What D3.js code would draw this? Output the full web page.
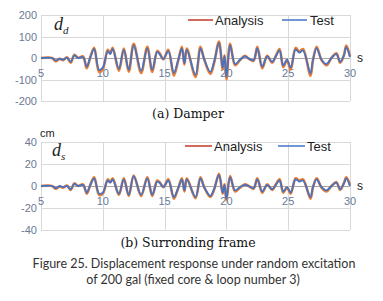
<!DOCTYPE html>
<html>
<head>
<meta charset="utf-8">
<script src="https://cdn.jsdelivr.net/npm/d3@7"></script>
<style>
body { margin: 0; background: #fff; }
svg { display: block; }
</style>
</head>
<body>
<svg id="chart" width="383" height="301"></svg>
<script>
// time stamps (s) shared by both panels
let times = [5, 5.9, 6.2, 6.5, 6.8, 7.1, 7.4, 7.7, 8.0, 8.4, 8.7, 9.0, 9.3, 9.7, 10.0, 10.4, 10.6, 10.8, 11.3, 11.7,
	12.1, 12.5, 13.1, 13.6, 14.0, 14.4, 14.6, 14.9, 15.3, 15.75, 16.1, 16.4, 16.6, 16.8, 17.5, 17.9, 18.2, 18.7, 19.0, 19.4,
	19.7, 19.85, 20.0, 20.3, 20.7, 21.1, 21.5, 21.8, 22.2, 22.5, 22.9, 23.3, 23.7, 24.0, 24.3, 24.6, 24.9, 25.2, 25.6, 25.9,
	26.2, 26.8, 27.0, 27.3, 27.7, 28.1, 28.5, 28.9, 29.2, 29.5, 29.7, 30];

// (a) damper displacement
let damperTest = [0, 0, -12, -3, -8, 2, -18, 12, 0, 5, -40, 5, 42, -55, -45, 32, 18, 42, -50, 38,
	-55, 60, -60, 45, -55, 28, 18, -5, 32, -70, -10, 45, -25, 38, -78, 45, -5, -65, -20, 70,
	-45, 10, -90, 60, -28, -8, 8, -2, -10, 45, -40, 8, -18, 8, 35, -35, -8, -45, 40, 25,
	35, -72, -10, 45, -8, -28, 0, 18, -18, 10, 50, 5];
let damperAnalysis = [0, 0, -15, -4, -10, 3, -22, 15, 1, 7, -48, 6, 48, -65, -52, 38, 22, 48, -60, 44,
	-64, 66, -70, 52, -65, 33, 22, -6, 38, -82, -12, 52, -30, 44, -88, 52, -6, -74, -24, 76,
	-52, 12, -100, 66, -34, -10, 10, -3, -13, 52, -48, 10, -22, 10, 42, -42, -10, -54, 47, 30,
	42, -82, -12, 52, -10, -34, 1, 22, -22, 12, 58, 8];

// (b) surrounding frame displacement (cm)
let frameTest = [0, 0, -2, 0, -1, 0, -3, 2, 0, 1, -6, 1, 7, -7, -6, 5, 3, 6, -7, 6,
	-8, 9, -8, 7, -8, 4, 3, -1, 5, -10, -2, 6, -4, 6, -10, 7, -1, -9, -3, 10,
	-6, 1, -12, 8, -4, -1, 1, 0, -2, 6, -5, 1, -3, 1, 5, -5, -1, -6, 6, 4,
	5, -10, -1, 6, -1, -4, 0, 3, -3, 2, 7, 0];
let frameAnalysis = [0, 0, -2.5, -0.5, -1.5, 0.5, -3.5, 2.5, 0, 1.5, -7, 1.5, 8, -8, -7, 6, 3.5, 7, -8, 7,
	-9, 9.5, -9, 8, -9, 5, 3.5, -1, 6, -11.5, -2, 7, -5, 7, -11, 8, -1, -10, -3.5, 11,
	-7, 1.5, -13, 9, -5, -1.5, 1.5, 0, -2.5, 7, -6, 1.5, -3.5, 1.5, 6, -6, -1.5, -7, 7, 5,
	6, -11.5, -1.5, 7, -1.5, -5, 0, 3.5, -3.5, 2.5, 8, 1];

let xTicks = [5, 10, 15, 20, 25, 30];
let damperTicks = [200, 100, 0, -100, -200];
let frameTicks = [40, 20, 0, -20, -40];
let seriesNames = ['Analysis', 'Test'];

let lineColor = {Analysis: '#ed7d31', Test: '#4472c4'};
let legendColor = {Analysis: '#c0392b', Test: '#4472c4'};
let tickColor = '#6a7a96';

var svg = d3.select('#chart');

function makePanel(opt){
	var x = d3.scaleLinear().domain([5, 30]).range([41, 350]);
	var y = d3.scaleLinear().domain([opt.ticks[opt.ticks.length-1], opt.ticks[0]]).range([opt.bottom, opt.top]);
	var g = svg.append('g');

	// grid
	g.selectAll('.hg').data(opt.ticks).enter().append('line')
		.attr('x1', x(5)).attr('x2', x(30))
		.attr('y1', d => Math.round(y(d))+0.5).attr('y2', d => Math.round(y(d))+0.5)
		.attr('stroke', d => d == 0 ? '#a6a6a6' : '#d9d9d9')
		.attr('stroke-width', 1);
	g.selectAll('.vg').data(xTicks).enter().append('line')
		.attr('x1', d => Math.round(x(d))+0.5).attr('x2', d => Math.round(x(d))+0.5)
		.attr('y1', y.range()[1]).attr('y2', y.range()[0])
		.attr('stroke', '#d9d9d9');

	// y tick labels
	g.selectAll('.yl').data(opt.ticks).enter().append('text')
		.attr('x', 37).attr('y', d => y(d)+4)
		.attr('text-anchor', 'end')
		.attr('font-family', 'Liberation Sans, Arial, sans-serif')
		.attr('font-size', 11)
		.attr('fill', tickColor)
		.text(d => d);

	// x tick labels sit just under the zero line
	g.selectAll('.xl').data(xTicks).enter().append('text')
		.attr('x', d => x(d)).attr('y', y(0)+19)
		.attr('text-anchor', 'middle')
		.attr('font-family', 'Liberation Sans, Arial, sans-serif')
		.attr('font-size', 11)
		.attr('fill', tickColor)
		.text(d => d);

	g.append('text')
		.attr('x', 357).attr('y', y(0)+4)
		.attr('font-family', 'Liberation Sans, Arial, sans-serif')
		.attr('font-size', 12)
		.attr('fill', '#222')
		.text('s');

	// series
	var line = d3.line()
		.x((d, i) => x(times[i]))
		.y(d => y(d))
		.curve(d3.curveCatmullRom.alpha(0.5));
	g.append('path').datum(opt.analysis)
		.attr('d', line).attr('fill', 'none')
		.attr('stroke', lineColor.Analysis).attr('stroke-width', 2.6)
		.attr('stroke-linejoin', 'round');
	g.append('path').datum(opt.test)
		.attr('d', line).attr('fill', 'none')
		.attr('stroke', lineColor.Test).attr('stroke-width', 1.8)
		.attr('stroke-linejoin', 'round');

	// legend
	var lg = g.selectAll('.lg').data(seriesNames).enter().append('g')
		.attr('transform', (d, i) => 'translate(' + opt.legendX[i] + ',' + opt.legendY + ')');
	lg.append('line')
		.attr('x1', 0).attr('x2', opt.legendW[0]).attr('y1', 0).attr('y2', 0)
		.attr('stroke', d => legendColor[d]).attr('stroke-width', 1.5);
	lg.append('text')
		.attr('x', (d, i) => opt.legendW[i] + 2).attr('y', 5)
		.attr('font-family', 'Liberation Sans, Arial, sans-serif')
		.attr('font-size', 13)
		.attr('fill', '#222')
		.text(d => d);

	// d label
	var lab = g.append('text')
		.attr('x', opt.labelX).attr('y', opt.labelY)
		.attr('font-family', 'Liberation Serif, serif')
		.attr('font-style', 'italic')
		.attr('fill', '#222');
	lab.append('tspan').attr('font-size', 18).text('d');
	lab.append('tspan').attr('font-size', 11).attr('dy', 4).text(opt.sub);

	// caption
	g.append('text')
		.attr('x', 188).attr('y', opt.captionY)
		.attr('text-anchor', 'middle')
		.attr('font-family', 'DejaVu Serif, serif')
		.attr('font-size', 12.5)
		.attr('fill', '#111')
		.text(opt.caption);
}

makePanel({top: 15, bottom: 101, ticks: damperTicks, test: damperTest, analysis: damperAnalysis,
	legendX: [188, 282], legendY: 20, legendW: [25, 26], labelX: 54, labelY: 30, sub: 'd',
	caption: '(a) Damper', captionY: 118});
makePanel({top: 142, bottom: 230, ticks: frameTicks, test: frameTest, analysis: frameAnalysis,
	legendX: [185, 278], legendY: 146, legendW: [27, 27], labelX: 52, labelY: 156, sub: 's',
	caption: '(b) Surronding frame', captionY: 247});

svg.append('text')
	.attr('x', 40).attr('y', 137)
	.attr('font-family', 'Liberation Sans, Arial, sans-serif')
	.attr('font-size', 11)
	.attr('fill', '#222')
	.text('cm');

var cap = svg.append('text')
	.attr('text-anchor', 'middle')
	.attr('font-family', 'Lato, sans-serif')
	.attr('font-size', 12.5)
	.attr('fill', '#333');
cap.append('tspan').attr('x', 194).attr('y', 268).text('Figure 25. Displacement response under random excitation');
cap.append('tspan').attr('x', 193).attr('y', 284).text('of 200 gal (fixed core & loop number 3)');
</script>
</body>
</html>
